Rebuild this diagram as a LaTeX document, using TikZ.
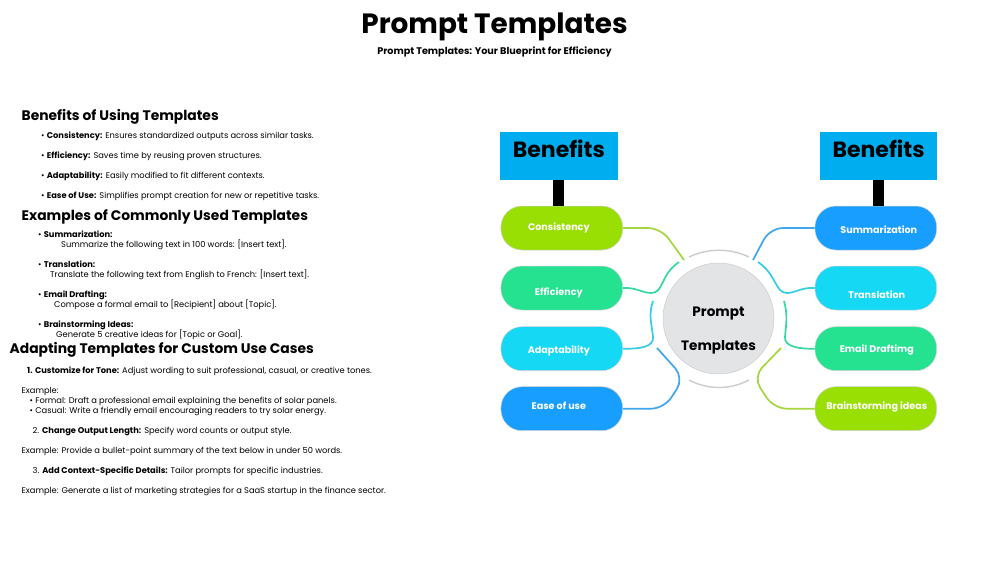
\documentclass[tikz,border=0pt]{standalone}
\usepackage{fontspec}
\setmainfont{Poppins}
\usetikzlibrary{calc}
\definecolor{pillgreen}{HTML}{9ADF04}
\definecolor{pillteal}{HTML}{25E291}
\definecolor{pillcyan}{HTML}{14D8F4}
\definecolor{pillblue}{HTML}{189EFF}
\definecolor{boxblue}{HTML}{00AEEF}
\definecolor{hubgray}{HTML}{E3E4E6}
\definecolor{linkgreen}{HTML}{A5D63F}
\definecolor{linkteal}{HTML}{38D6A2}
\definecolor{linkcyan}{HTML}{35CDE8}
\definecolor{linkblue}{HTML}{3FA6EE}

\begin{document}
\begin{tikzpicture}[x=1pt,y=-1pt]
	\tikzset{
		heading/.style={anchor=base west,inner sep=0pt,font=\bfseries\fontsize{13.85}{16}\selectfont},
		body/.style={anchor=base west,inner sep=0pt,font=\fontsize{8.3}{10}\selectfont},
		pill/.style={draw=gray!35,line width=0.5pt,rounded corners=21pt,minimum width=121.7pt,minimum height=44pt,inner sep=0pt},
		pilltext/.style={inner sep=0pt,text=white,font=\bfseries\fontsize{9.6}{10}\selectfont},
		bigbox/.style={fill=boxblue,minimum width=117.7pt,minimum height=48.3pt,inner sep=0pt},
		bigtext/.style={inner sep=0pt,font=\bfseries\fontsize{22}{24}\selectfont},
		stem/.style={line width=11pt},
		link/.style={line width=1.7pt,rounded corners=13pt},
		halo/.style={gray!40,line width=1.4pt},
	}
	\path[use as bounding box,fill=white] (0,0) rectangle (1000,563);
	%
	% title
	\node[inner sep=0pt,font=\bfseries\fontsize{27.9}{32}\selectfont] (title) at (494.5,27) {Prompt Templates};
	\node[inner sep=0pt,font=\bfseries\fontsize{9.65}{10}\selectfont] (subtitle) at (494.5,52) {Prompt Templates: Your Blueprint for Efficiency};
	%
	% left text column
	\node[heading] (h1) at (21.5,120) {Benefits of Using Templates};
	\node[body] (b1) at (41,138) {• \textbf{Consistency:} Ensures standardized outputs across similar tasks.};
	\node[body] (b2) at (41,158) {• \textbf{Efficiency:} Saves time by reusing proven structures.};
	\node[body] (b3) at (41,178) {• \textbf{Adaptability:} Easily modified to fit different contexts.};
	\node[body] (b4) at (41,198) {• \textbf{Ease of Use:} Simplifies prompt creation for new or repetitive tasks.};
	\node[heading] (h2) at (21.5,220) {Examples of Commonly Used Templates};
	\node[body] (e1) at (38,237) {• \textbf{Summarization:}};
	\node[body] (e1s) at (61,247) {Summarize the following text in 100 words: [Insert text].};
	\node[body] (e2) at (38,267) {• \textbf{Translation:}};
	\node[body] (e2s) at (50,277) {Translate the following text from English to French: [Insert text].};
	\node[body] (e3) at (38,297) {• \textbf{Email Drafting:}};
	\node[body] (e3s) at (54,307) {Compose a formal email to [Recipient] about [Topic].};
	\node[body] (e4) at (38,327) {• \textbf{Brainstorming Ideas:}};
	\node[body] (e4s) at (56,337) {Generate 5 creative ideas for [Topic or Goal].};
	\node[heading] (h3) at (9.5,353) {Adapting Templates for Custom Use Cases};
	\node[body] (a1) at (27,373) {\textbf{1. Customize for Tone:} Adjust wording to suit professional, casual, or creative tones.};
	\node[body] (a1x) at (21.5,393) {Example:};
	\node[body] (a1f) at (29.5,403) {• Formal: Draft a professional email explaining the benefits of solar panels.};
	\node[body] (a1c) at (29.5,413) {• Casual: Write a friendly email encouraging readers to try solar energy.};
	\node[body] (a2) at (32.5,433) {2. \textbf{Change Output Length:} Specify word counts or output style.};
	\node[body] (a2x) at (21.5,453) {Example: Provide a bullet-point summary of the text below in under 50 words.};
	\node[body] (a3) at (32.5,473) {3. \textbf{Add Context-Specific Details:} Tailor prompts for specific industries.};
	\node[body] (a3x) at (21.5,493) {Example: Generate a list of marketing strategies for a SaaS startup in the finance sector.};
	%
	% hub
	\node[circle,draw=gray!40,line width=0.5pt,fill=hubgray,minimum size=111pt,inner sep=0pt] (hub) at (718.5,318.5) {};
	\node[inner sep=0pt,align=center,font=\bfseries\fontsize{13.6}{34}\selectfont] (hubtext) at ($(hub)+(0,12)$) {Prompt\\Templates};
	\coordinate (ht1) at (689,257);
	\coordinate (ht2) at (749,257);
	\coordinate (hb1) at (689,380);
	\coordinate (hb2) at (749,380);
	\draw[halo] (ht1) .. controls (708,248) and (730,248) .. (ht2);
	\draw[halo] (hb1) .. controls (708,390) and (730,390) .. (hb2);
	%
	% left branch
	\node[bigbox] (benl) at (558.9,155.9) {};
	\node[bigtext] (benltext) at ($(benl)+(0,-7)$) {Benefits};
	\node[pill,fill=pillgreen] (consistency) at (561.8,228) {};
	\node[pill,fill=pillteal] (efficiency) at (561.8,288) {};
	\node[pill,fill=pillcyan] (adaptability) at (561.8,348.7) {};
	\node[pill,fill=pillblue] (easeuse) at (561.8,408.7) {};
	\node[pilltext] (t1) at ($(consistency)+(-3,-0.5)$) {Consistency};
	\node[pilltext] (t2) at ($(efficiency)+(-3,4.5)$) {Efficiency};
	\node[pilltext] (t3) at ($(adaptability)+(-3,2)$) {Adaptability};
	\node[pilltext] (t4) at ($(easeuse)+(-3,-2.5)$) {Ease of use};
	\draw[stem] (benl.south) -- (benl.south |- consistency.north);
	%
	% right branch
	\node[bigbox] (benr) at (878.6,155.9) {};
	\node[bigtext] (benrtext) at ($(benr)+(0,-7)$) {Benefits};
	\node[pill,fill=pillblue] (summarization) at (875.8,228) {};
	\node[pill,fill=pillcyan] (translation) at (875.8,288) {};
	\node[pill,fill=pillteal] (email) at (875.8,348.7) {};
	\node[pill,fill=pillgreen] (brainstorm) at (875.8,408.7) {};
	\node[pilltext] (t5) at ($(summarization)+(3,2)$) {Summarization};
	\node[pilltext] (t6) at ($(translation)+(1,6.5)$) {Translation};
	\node[pilltext] (t7) at ($(email)+(1,1)$) {Email Draftimg};
	\node[pilltext] (t8) at ($(brainstorm)+(1,-2)$) {Brainstorming ideas};
	\draw[stem] (benr.south) -- (benr.south |- summarization.north);
	%
	% free ends near the hub
	\coordinate (c1) at (684,260);
	\coordinate (c2) at (679,262);
	\coordinate (c3) at (653,301);
	\coordinate (c4) at (657,348);
	\coordinate (c5) at (753,260);
	\coordinate (c6) at (758,262);
	\coordinate (c7) at (784,301);
	\coordinate (c8) at (781,348);
	%
	\draw[link,linkgreen] (consistency.east) -- (661,228) -- (c1);
	\draw[linkteal,line width=1.7pt] (efficiency.east) .. controls (635,287) and (643,293) .. (651,293) .. controls (664,293) and (660,275) .. (c2);
	\draw[linkcyan,line width=1.7pt] (adaptability.east) .. controls (640,349) and (654,347) .. (653,337) .. controls (652,325) and (648,315) .. (c3);
	\draw[link,linkblue] (easeuse.east) -- (664,408.7) -- (684,378) -- (c4);
	\draw[link,linkblue] (summarization.west) -- (770,228) -- (c5);
	\draw[linkcyan,line width=1.7pt] (translation.west) .. controls (802,287) and (795,293) .. (787,293) .. controls (775,293) and (777,275) .. (c6);
	\draw[linkteal,line width=1.7pt] (email.west) .. controls (800,349) and (784,347) .. (785,337) .. controls (786,325) and (788,315) .. (c7);
	\draw[link,linkgreen] (brainstorm.west) -- (774,408.7) -- (753,377) -- (c8);
\end{tikzpicture}
\end{document}
